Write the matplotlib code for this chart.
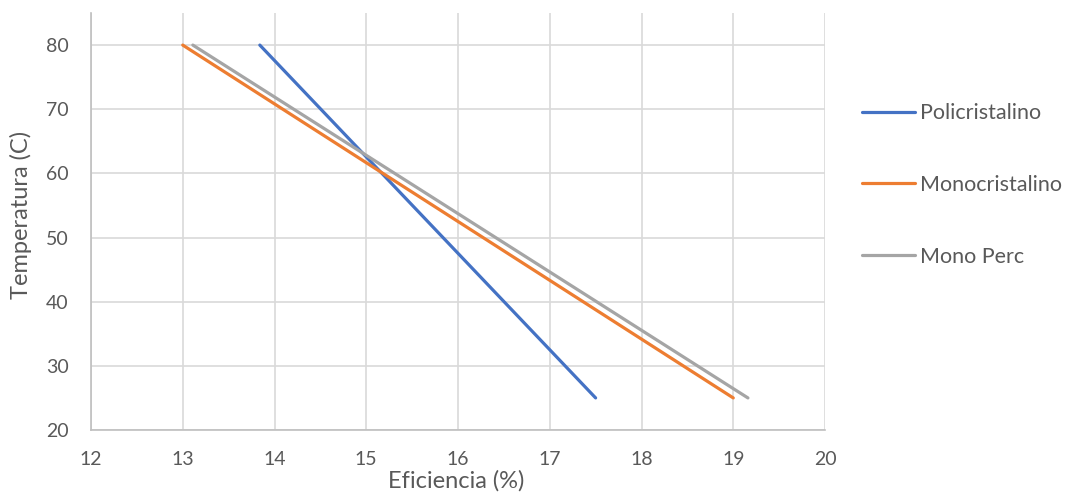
import matplotlib
matplotlib.use("Agg")
import matplotlib.pyplot as plt

plt.rcParams['font.family'] = ['Lato', 'DejaVu Sans']

temperatura = [80, 25]
poli_x = [13.84, 17.5]
mono_x = [13.0, 19.0]
perc_x = [13.11, 19.16]
series_names = ["Policristalino", "Monocristalino", "Mono Perc"]
colors = ["#4472C4", "#ED7D31", "#A5A5A5"]
xticks = [12, 13, 14, 15, 16, 17, 18, 19, 20]
yticks = [20, 30, 40, 50, 60, 70, 80]

txt = "#595959"
fig = plt.figure(figsize=(10.68, 4.92), dpi=100)
ax = fig.add_axes([91/1068, 1-430/492, (825-91)/1068, (430-13)/492])

for xs, name, c in zip([poli_x, mono_x, perc_x], series_names, colors):
    ax.plot(xs, temperatura, color=c, lw=2.3, label=name, solid_capstyle='round')

ax.set_xlim(12, 20)
ax.set_ylim(20, 85)
ax.set_xticks(xticks)
ax.set_yticks(yticks)
ax.grid(True, color="#D9D9D9", lw=1.2)
ax.set_axisbelow(True)
for s in ["top", "right"]:
    ax.spines[s].set_visible(False)
for s in ["left", "bottom"]:
    ax.spines[s].set_color("#BFBFBF")
    ax.spines[s].set_linewidth(1.2)
ax.tick_params(length=0, labelsize=14, colors=txt)
ax.tick_params(axis='x', pad=15)
ax.tick_params(axis='y', pad=16)

fig.text(456/1068, 1-488/492, "Eficiencia (%)", fontsize=17, color=txt,
         ha='center', va='baseline')
fig.text(21/1068, 1-215/492, "Temperatura (C)", fontsize=17, color=txt,
         ha='center', va='center', rotation=90)

h, l = ax.get_legend_handles_labels()
fig.legend(h, l, loc='center left', bbox_to_anchor=(862/1068, 1-185/492),
           frameon=False, fontsize=15.5, labelcolor=txt, handlelength=2.46,
           handletextpad=0.23, labelspacing=2.4, borderpad=0, borderaxespad=0)

fig.savefig("out.png", dpi=100)
